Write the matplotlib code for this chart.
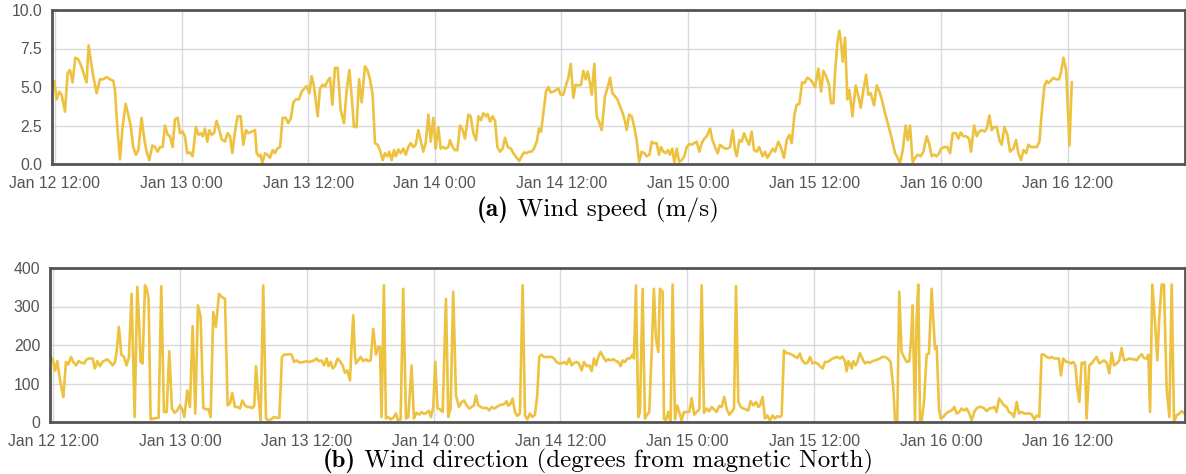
import matplotlib
matplotlib.use("Agg")
import matplotlib.pyplot as plt
import matplotlib.dates as mdates
from matplotlib.ticker import FuncFormatter, FixedLocator
import pandas as pd
import numpy as np

# ---------------- data (hours after Jan 12 12:00) ----------------
speed_hours = [
    -0.22, -0.06, 0.16, 0.41, 0.63, 0.95, 1.20, 1.42, 1.67, 1.93, 2.21, 2.53, 2.84, 3.00, 3.19, 3.38,
    3.63, 3.95, 4.27, 4.58, 4.90, 5.21, 5.53, 5.69, 5.91, 6.16, 6.41, 6.70, 6.95, 7.17, 7.42, 7.68,
    7.90, 8.21, 8.47, 8.69, 8.94, 9.23, 9.48, 9.73, 9.95, 10.21, 10.43, 10.68, 10.90, 11.15, 11.37,
    11.63, 11.85, 12.10, 12.32, 12.54, 12.80, 13.05, 13.36, 13.59, 13.81, 14.00, 14.22, 14.44, 14.63,
    14.85, 15.07, 15.32, 15.58, 15.80, 16.11, 16.37, 16.59, 16.81, 17.06, 17.31, 17.60, 17.85, 18.10,
    18.33, 18.64, 18.96, 19.12, 19.34, 19.49, 19.65, 19.91, 20.16, 20.38, 20.63, 20.85, 21.07, 21.33,
    21.58, 21.86, 22.12, 22.37, 22.59, 22.84, 23.13, 23.38, 23.63, 23.85, 24.11, 24.33, 24.55, 24.90,
    25.12, 25.37, 25.59, 25.85, 26.07, 26.29, 26.54, 26.79, 27.08, 27.39, 27.65, 27.90, 28.12, 28.34,
    28.59, 28.82, 29.07, 29.38, 29.61, 29.86, 30.11, 30.33, 30.58,
    30.81, 31.06, 31.28, 31.50, 31.69, 31.91, 32.13, 32.31, 32.54, 32.76, 33.02, 33.24, 33.49, 33.71,
    33.97, 34.19, 34.44, 34.66, 34.91, 35.13, 35.39, 35.61, 35.86, 36.08, 36.33, 36.56, 36.81, 37.03,
    37.28, 37.44, 37.69, 37.91, 38.14, 38.39, 38.64, 38.86, 39.18, 39.40, 39.65, 39.91, 40.13, 40.38,
    40.60, 40.85, 41.01, 41.23, 41.48, 41.71, 41.93, 42.18, 42.43, 42.65, 42.91, 43.22, 43.44, 43.76,
    44.01, 44.23, 44.45, 44.71, 44.93, 45.18, 45.40, 45.66, 45.88, 46.07, 46.29, 46.54, 46.76, 46.98,
    47.23, 47.49, 47.71, 47.93, 48.18, 48.40, 48.66, 48.88, 49.13, 49.35, 49.61, 49.86, 50.08, 50.30,
    50.49, 50.71, 50.87, 51.12, 51.34, 51.56, 51.82, 52.13, 52.35, 52.61, 52.83, 53.08, 53.30, 53.55,
    53.81, 54.03, 54.19, 54.41, 54.66, 54.88, 55.13, 55.36, 55.61, 55.86, 56.08, 56.34, 56.56, 56.78,
    57.03, 57.25, 57.44, 57.66, 57.88, 58.10, 58.29, 58.51, 58.70, 58.93, 59.15, 59.40, 59.65, 59.87,
    60.13, 60.35, 60.57, 60.82, 61.07, 61.30, 61.55, 61.77, 62.09, 62.31, 62.56, 62.81, 63.03, 63.29,
    63.51, 63.76, 63.98, 64.23, 64.45, 64.61, 64.87, 65.09, 65.31, 65.56, 65.78, 66.03, 66.26, 66.51,
    66.73,
    67.08, 67.30, 67.52, 67.77, 68.03, 68.25, 68.56, 68.78, 69.10, 69.35, 69.61, 69.83, 70.08, 70.30,
    70.55, 70.81, 71.03, 71.31, 71.56, 71.79, 72.04, 72.35, 72.61, 72.83, 73.08, 73.36, 73.55, 73.78,
    73.93, 74.16, 74.34, 74.50, 74.66, 74.88, 75.10, 75.29, 75.58, 75.89, 76.15, 76.37, 76.62, 76.87,
    77.09, 77.31, 77.63, 77.88, 78.14, 78.36, 78.67, 78.99, 79.31, 79.62, 79.87, 80.09, 80.35, 80.63,
    80.82, 81.04, 81.29, 81.52, 81.77, 82.05, 82.31, 82.62, 82.84, 83.10, 83.32, 83.57, 83.79, 83.98,
    84.30, 84.58, 84.83, 85.09, 85.40, 85.62, 85.84, 86.10, 86.35, 86.64, 86.82, 87.11, 87.36, 87.58,
    87.84, 88.09, 88.31, 88.56, 88.78, 89.00, 89.26, 89.51, 89.73, 89.98, 90.27, 90.52, 90.84, 91.09,
    91.31, 91.56, 91.79, 92.04, 92.26, 92.51, 92.73, 93.05, 93.30, 93.52, 93.77, 93.99, 94.15, 94.38,
    94.63, 94.88, 95.17, 95.36, 95.58, 95.83, 95.96, 96.15, 96.37,
]
speed_values = [
    5.15, 5.4, 4.2, 4.7, 4.5, 3.4, 5.9, 6.1, 5.3, 6.9, 6.8, 6.3, 5.6, 5.3, 7.7, 6.8,
    5.7, 4.6, 5.5, 5.5, 5.65, 5.5, 5.4, 4.8, 2.4, 0.3, 2.4, 3.9, 3.2, 2.5, 1.1, 0.6,
    0.9, 3.0, 1.6, 0.8, 0.25, 1.2, 1.1, 0.8, 1.1, 1.1, 2.5, 1.9, 1.8, 1.1, 2.9,
    3.0, 2.0, 2.1, 1.8, 0.7, 0.75, 0.5, 2.4, 1.9, 2.0, 1.8, 2.3, 1.45, 2.2,
    1.9, 2.0, 2.8, 2.2, 1.6, 1.45, 2.0, 1.8, 0.7, 2.1, 3.1, 3.1, 1.25, 2.2,
    2.0, 2.1, 2.2, 0.7, 0.5, 0.6, 0.05, 0.7, 0.6, 0.4, 0.9, 0.7, 1.0, 1.1,
    3.0, 3.0, 2.65, 3.0, 4.0, 4.2, 4.2, 4.7, 4.9, 5.05, 4.6, 5.7, 5.05, 3.1,
    4.9, 5.15, 5.05, 5.4, 5.6, 3.85, 6.25, 6.25, 3.5, 2.65, 4.8, 6.1, 4.4, 2.4,
    2.4, 5.5, 4.0, 6.35, 6.1, 5.5, 4.5, 1.35, 1.25,
    0.9, 0.25, 0.7, 0.5, 0.8, 0.25, 0.9, 0.5, 0.95, 0.7, 1.0, 0.6, 1.1, 1.35,
    1.1, 1.25, 2.2, 1.55, 0.8, 1.35, 3.2, 1.45, 3.0, 1.0, 2.4, 1.0, 1.1, 1.0,
    1.1, 1.55, 1.1, 0.9, 0.9, 2.5, 2.2, 1.65, 3.2, 3.1, 2.0, 1.55, 3.1, 2.85,
    3.3, 3.1, 3.25, 2.75, 3.1, 2.8, 1.1, 0.8, 1.0, 1.7, 1.1, 1.0, 0.7, 0.4,
    0.2, 0.5, 0.75, 0.7, 0.8, 0.8, 1.0, 1.45, 2.3, 2.1, 3.3, 4.7, 5.0, 4.65,
    4.7, 4.8, 4.9, 4.5, 4.5, 5.05, 5.6, 6.5, 4.3, 5.15, 5.1, 5.15, 6.05, 5.5,
    6.0, 5.25, 4.5, 6.5, 3.1, 2.75, 2.2, 4.4, 4.9, 5.6, 4.6, 4.4, 4.2, 3.75,
    3.3, 2.75, 2.2, 3.2, 3.1, 2.5, 1.55, 0.15, 0.8, 0.7, 0.5, 0.6, 1.45, 1.35,
    1.35, 0.6, 1.1, 0.8, 0.7, 0.9, 0.6, 1.0, 0.1, 1.0, 0.15, 0.25, 0.5, 1.1,
    1.3, 1.25, 1.35, 1.45, 0.8, 1.35, 1.65, 1.8, 2.3, 1.55, 1.1, 0.7, 1.25, 1.1,
    1.0, 1.0, 1.1, 2.2, 0.9, 0.5, 1.55, 1.45, 2.0, 1.55, 1.25, 2.1, 0.9, 0.8,
    1.1,
    0.5, 0.8, 0.4, 0.7, 1.0, 0.8, 1.45, 1.1, 0.4, 1.55, 1.9, 1.35, 3.2, 3.85,
    3.9, 5.3, 5.25, 5.6, 5.5, 5.3, 5.0, 6.2, 4.7, 6.05, 5.7, 5.15, 3.95, 3.95,
    5.9, 7.9, 8.65, 7.9, 6.65, 8.2, 4.2, 4.8, 3.1, 5.1, 4.4, 3.65, 4.8, 5.8,
    4.5, 4.6, 3.8, 5.1, 4.7, 4.2, 3.3, 2.5, 1.65, 0.7, 0.4, 0.05, 0.9, 2.5,
    1.55, 2.5, 0.1, 0.4, 0.6, 0.5, 0.8, 1.8, 1.35, 0.5, 0.6, 0.5, 0.7, 1.0,
    1.1, 1.1, 0.7, 2.0, 2.0, 1.65, 2.05, 1.8, 1.8, 1.65, 0.8, 2.5, 1.8, 2.1,
    2.2, 2.1, 2.3, 3.15, 2.2, 2.4, 2.4, 1.55, 1.25, 2.4, 1.9, 0.8, 1.0, 1.55,
    0.7, 0.25, 0.9, 0.7, 1.25, 1.1, 1.1, 1.1, 1.45, 3.3, 5.05, 5.4, 5.25, 5.4,
    5.6, 5.5, 5.5, 6.0, 6.9, 6.1, 4.2, 1.2, 5.3,
]

dir_hours = [
    -0.25, -0.06, 0.16, 0.38, 0.57, 0.79, 0.95, 1.20, 1.42, 1.67, 1.89, 2.15, 2.40, 2.68, 2.93, 3.15,
    3.41, 3.72, 3.94, 4.16, 4.42, 4.64, 4.89, 5.11, 5.36, 5.62, 5.84, 5.99, 6.21, 6.44, 6.69, 6.94,
    7.16, 7.41, 7.70, 7.95, 8.14, 8.26, 8.45, 8.68, 8.83, 9.02, 9.21, 9.46, 9.72, 9.97, 10.22, 10.47,
    10.73, 10.98, 11.23, 11.48, 11.74, 11.99, 12.18, 12.40, 12.68, 12.93, 13.19, 13.44, 13.69, 13.94,
    14.20, 14.45, 14.70, 14.89, 15.14, 15.39, 15.68, 15.93, 16.25, 16.50, 16.72, 16.94, 17.19, 17.44,
    17.67, 17.89, 18.14, 18.36, 18.61, 18.83, 19.02, 19.18, 19.40, 19.62, 19.87, 20.13, 20.38, 20.63,
    20.88, 21.14, 21.39, 21.64, 21.86, 22.08, 22.33, 22.56, 22.78, 23.03, 23.25, 23.50, 23.72, 23.97,
    24.23, 24.45, 24.70, 24.92, 25.14, 25.39, 25.62, 25.87, 26.03, 26.25, 26.44, 26.66, 26.91, 27.13,
    27.38, 27.60, 27.82, 28.08, 28.23, 28.39, 28.55, 28.64, 28.86, 29.09, 29.34, 29.59, 29.81, 30.03,
    30.28, 30.54, 30.76,
    30.91, 31.07, 31.29, 31.48, 31.70, 31.92, 32.18, 32.43, 32.65, 32.87, 33.12, 33.38, 33.60, 33.91,
    34.13, 34.38, 34.64, 34.86, 35.08, 35.33, 35.55, 35.74, 35.96, 36.15, 36.37, 36.59, 36.85, 37.16,
    37.38, 37.60, 37.85, 38.11, 38.39, 38.64, 38.87, 39.12, 39.37, 39.59, 39.81, 40.00, 40.22, 40.47,
    40.69, 41.01, 41.26, 41.48, 41.74, 41.96, 42.21, 42.43, 42.65, 42.90, 43.06, 43.28, 43.47, 43.69,
    43.91, 44.16, 44.42, 44.64, 44.86, 45.11, 45.33, 45.58, 45.80, 45.99, 46.21, 46.43, 46.69, 46.94,
    47.16, 47.38, 47.63, 47.89, 48.11, 48.36, 48.58, 48.83, 49.05, 49.31, 49.53, 49.75, 50.00, 50.22,
    50.47, 50.73, 50.95, 51.17, 51.36, 51.58, 51.80, 52.05, 52.30, 52.52, 52.74, 53.00, 53.25, 53.47,
    53.69, 53.88, 54.10, 54.32, 54.57, 54.83, 54.95, 55.14, 55.36, 55.52, 55.77, 55.99, 56.15, 56.40,
    56.62, 56.84, 57.03, 57.26, 57.41, 57.67, 57.79, 57.98, 58.20, 58.42, 58.61, 58.83, 59.05, 59.24,
    59.46, 59.68, 59.94, 60.19, 60.41, 60.66, 60.88, 61.14, 61.36, 61.58, 61.83, 62.08, 62.30, 62.56,
    62.78, 63.03, 63.25, 63.50, 63.72, 63.97, 64.20, 64.42, 64.61, 64.83, 65.05, 65.30, 65.52, 65.77,
    65.99, 66.25, 66.50, 66.72,
    66.88, 67.13, 67.35, 67.57, 67.82, 68.08, 68.30, 68.52, 68.77, 68.93, 69.15, 69.40, 69.65, 69.87,
    70.13, 70.41, 70.66, 70.88, 71.14, 71.39, 71.61, 71.86, 72.08, 72.30, 72.56, 72.81, 73.03, 73.28,
    73.50, 73.75, 73.97, 74.20, 74.45, 74.67, 74.92, 75.08, 75.24, 75.39, 75.55, 75.71, 75.93, 76.09,
    76.34, 76.56, 76.81, 77.03, 77.29, 77.54, 77.76, 77.98, 78.23, 78.45, 78.71, 78.96, 79.24, 79.50,
    79.65, 79.87, 80.06, 80.28, 80.50, 80.76, 81.01, 81.17, 81.32, 81.55, 81.70, 81.86, 82.02, 82.18,
    82.40, 82.65, 82.87, 83.12, 83.44, 83.60, 83.82, 83.98, 84.23, 84.48, 84.70, 85.02, 85.27, 85.49,
    85.74, 85.96, 86.21, 86.44, 86.69, 86.91, 87.16, 87.38, 87.63, 87.85, 88.11, 88.33, 88.58, 88.80,
    89.05, 89.27, 89.50, 89.75, 89.97, 90.22, 90.44, 90.69, 90.91, 91.17, 91.39, 91.64, 91.89, 92.11,
    92.37, 92.59, 92.84, 93.06, 93.31, 93.53, 93.75, 94.01, 94.26, 94.48, 94.73, 94.95, 95.17, 95.36,
    95.58, 95.84, 96.06, 96.28, 96.53, 96.72, 96.91, 97.10, 97.32, 97.48, 97.63, 97.79, 98.04, 98.26,
    98.52, 98.74, 98.99, 99.21, 99.43, 99.68, 99.94, 100.16, 100.38, 100.63, 100.88, 101.10, 101.32,
    101.58, 101.83, 102.05, 102.30, 102.52, 102.78, 103.00, 103.22, 103.47, 103.63, 103.79, 104.01,
    104.26, 104.48, 104.67, 104.89, 105.11, 105.36, 105.62, 105.84, 106.06, 106.31, 106.56, 106.78,
    107.00, 107.19,
]
dir_values = [
    169, 163, 134, 158, 121, 87, 65, 156, 149, 169, 156, 147, 158, 154, 152, 163,
    165, 165, 139, 158, 145, 156, 160, 163, 156, 147, 156, 182, 247, 175, 169, 147,
    169, 333, 13, 351, 251, 156, 152, 355, 346, 320, 7, 9, 10, 11, 353, 26,
    26, 184, 35, 24, 30, 43, 35, 13, 82, 39, 249, 22, 303, 275,
    36, 33, 33, 13, 286, 247, 333, 325, 320, 43, 48, 75, 39, 39,
    35, 56, 43, 39, 39, 36, 43, 145, 69, 4, 355, 9, 4, 7,
    13, 11, 11, 169, 175, 175, 176, 175, 156, 160, 155, 155, 156, 158,
    156, 158, 160, 165, 158, 160, 147, 165, 145, 156, 139, 145, 165, 158,
    147, 128, 134, 108, 199, 277, 173, 152, 160, 169, 158, 163, 158, 160,
    242, 175, 195,
    195, 13, 355, 9, 13, 7, 11, 22, 2, 7, 346, 9, 13, 147,
    9, 24, 19, 26, 21, 24, 29, 13, 39, 156, 35, 33, 26, 320,
    13, 35, 338, 69, 39, 52, 56, 43, 35, 39, 43, 69, 43, 39,
    36, 37, 30, 39, 35, 39, 43, 45, 46, 54, 42, 48, 61, 26,
    16, 22, 355, 17, 7, 22, 13, 19, 69, 169, 175, 169, 169, 169,
    169, 165, 156, 152, 152, 156, 150, 165, 147, 154, 156, 152, 134, 156,
    145, 147, 132, 165, 147, 169, 182, 169, 158, 163, 160, 163, 158, 156,
    145, 160, 156, 165, 165, 175, 165, 355, 13, 26, 346, 9, 17, 26,
    175, 346, 217, 182, 346, 338, 9, 4, 26, 0, 357, 7, 43, 26,
    4, 26, 26, 26, 62, 19, 26, 33, 355, 24, 35, 28, 39, 32,
    26, 42, 39, 65, 35, 19, 26, 35, 353, 52, 39, 35, 33, 30,
    54, 43, 52, 39,
    43, 65, 9, 17, 4, 17, 9, 15, 13, 17, 186, 179, 178, 175,
    171, 166, 178, 160, 152, 154, 169, 152, 155, 152, 145, 139, 156, 156,
    160, 165, 167, 169, 165, 170, 158, 132, 158, 152, 139, 158, 147, 156,
    179, 165, 152, 156, 154, 158, 160, 162, 165, 169, 169, 165, 156, 87,
    6, 4, 338, 182, 169, 156, 158, 212, 303, 4, 268, 357, 4, 4,
    52, 175, 178, 346, 190, 197, 35, 9, 13, 22, 26, 30, 39, 22,
    26, 35, 30, 35, 22, 4, 26, 36, 39, 39, 35, 28, 35, 36,
    39, 26, 61, 52, 43, 39, 26, 22, 13, 52, 22, 26, 22, 22,
    22, 20, 7, 17, 13, 175, 175, 169, 166, 169, 165, 165, 165, 121,
    165, 156, 156, 152, 156, 147, 87, 52, 154, 152, 156, 9, 147, 152,
    162, 169, 152, 156, 160, 155, 126, 180, 147, 152, 160, 192, 160,
    162, 165, 163, 163, 160, 170, 176, 166, 165, 175, 26, 357,
    260, 160, 273, 357, 357, 87, 13, 357, 0, 17, 22, 28,
    24, 17,
]

speed_yticks = [0.0, 2.5, 5.0, 7.5, 10.0]
dir_yticks = [0, 100, 200, 300, 400]
start_time = "2016-01-12 12:00"
caption_a = ("(a)", " Wind speed (m/s)")
caption_b = ("(b)", " Wind direction (degrees from magnetic North)")

# ---------------- styling ----------------
plt.rcParams["font.family"] = ["Liberation Sans", "DejaVu Sans"]

LINE = "#edc240"
BORDER = "#545454"
GRID = "#d9d9d9"
TXT = "#545454"

W, H = 1186, 474
fig = plt.figure(figsize=(W / 100, H / 100), dpi=100)

t0 = pd.Timestamp(start_time)


def to_time(hours):
    return t0 + pd.to_timedelta(np.asarray(hours), unit="h")


def fmt(x, pos):
    d = mdates.num2date(x)
    return f"{d:%b} {d.day} {d.hour}:{d:%M}"


def make_axes(left_px, right_px, top_px, bottom_px):
    return fig.add_axes([left_px / W, 1 - bottom_px / H,
                         (right_px - left_px) / W, (bottom_px - top_px) / H])


ticks = to_time(np.arange(0, 97, 12))


def style(ax, xlim_h, yticks, ylabels):
    ax.set_xlim(to_time([xlim_h[0]])[0], to_time([xlim_h[1]])[0])
    ax.set_ylim(yticks[0], yticks[-1])
    ax.xaxis.set_major_locator(FixedLocator(mdates.date2num(ticks)))
    ax.xaxis.set_major_formatter(FuncFormatter(fmt))
    ax.set_yticks(yticks)
    ax.set_yticklabels(ylabels)
    ax.grid(True, color=GRID, linewidth=1.0)
    ax.set_axisbelow(True)
    for s in ax.spines.values():
        s.set_color(BORDER)
        s.set_linewidth(2.0)
    ax.tick_params(axis="both", length=0, labelsize=11.3, labelcolor=TXT)
    ax.tick_params(axis="x", pad=9)
    ax.tick_params(axis="y", pad=7)


# Panel (a)
ax1 = make_axes(52, 1185, 10, 164)
ax1.plot(to_time(speed_hours), speed_values, color=LINE, linewidth=1.9,
         solid_joinstyle="round", clip_on=True)
style(ax1, (-0.28, 107.1), speed_yticks, [f"{v:.1f}" for v in speed_yticks])

# Panel (b)
ax2 = make_axes(50, 1185, 268, 422)
ax2.plot(to_time(dir_hours), dir_values, color=LINE, linewidth=1.9,
         solid_joinstyle="round", clip_on=True)
style(ax2, (-0.31, 107.1), dir_yticks, [str(v) for v in dir_yticks])

# Captions: bold label + roman text in Computer Modern, centred as a pair
renderer = fig.canvas.get_renderer()


def caption(parts, cx_px, baseline_px, size):
    bold = fig.text(0, 1 - baseline_px / H, parts[0], family="cmb10", size=size,
                    va="baseline", ha="left", color="black")
    rest = fig.text(0, 1 - baseline_px / H, parts[1], family="cmr10", size=size,
                    va="baseline", ha="left", color="black")
    wb = bold.get_window_extent(renderer).width
    wr = rest.get_window_extent(renderer).width
    total = wb + wr
    x0 = cx_px - total / 2
    bold.set_x(x0 / W)
    rest.set_x((x0 + wb) / W)


caption(caption_a, 598, 216, 18.2)
caption(caption_b, 598, 467, 17.9)

fig.savefig("out.png", dpi=100, facecolor="white")
